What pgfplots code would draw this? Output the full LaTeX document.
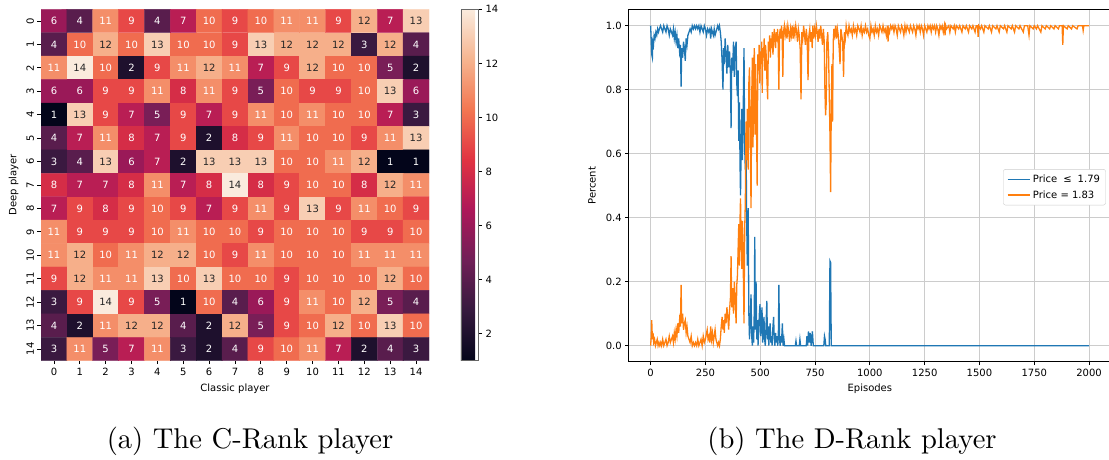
\documentclass[border=0pt]{standalone}
\usepackage{fontspec}
\usepackage{pgfplots}
\usepackage{pgfplotstable}
\pgfplotsset{compat=1.18}
\newfontfamily\dv{DejaVu Sans}
\newcommand{\pf}{\dv\fontsize{10}{12}\selectfont}
\definecolor{tabblue}{HTML}{1F77B4}
\definecolor{taborange}{HTML}{FF7F0E}
\definecolor{darktext}{HTML}{262626}
\pgfplotsset{colormap={rocket}{rgb255(0)=(3,5,26) rgb255(1)=(53,25,62) rgb255(2)=(112,31,87) rgb255(3)=(173,23,89) rgb255(4)=(225,51,66) rgb255(5)=(243,118,81) rgb255(6)=(246,180,143) rgb255(7)=(250,235,221)}}

\pgfplotstableread[row sep=\\]{
x y v\\
0 0 6\\ 1 0 4\\ 2 0 11\\ 3 0 9\\ 4 0 4\\ 5 0 7\\ 6 0 10\\ 7 0 9\\ 8 0 10\\ 9 0 11\\ 10 0 11\\ 11 0 9\\ 12 0 12\\ 13 0 7\\ 14 0 13\\
0 1 4\\ 1 1 10\\ 2 1 12\\ 3 1 10\\ 4 1 13\\ 5 1 10\\ 6 1 10\\ 7 1 9\\ 8 1 13\\ 9 1 12\\ 10 1 12\\ 11 1 12\\ 12 1 3\\ 13 1 12\\ 14 1 4\\
0 2 11\\ 1 2 14\\ 2 2 10\\ 3 2 2\\ 4 2 9\\ 5 2 11\\ 6 2 12\\ 7 2 11\\ 8 2 7\\ 9 2 9\\ 10 2 12\\ 11 2 10\\ 12 2 10\\ 13 2 5\\ 14 2 2\\
0 3 6\\ 1 3 6\\ 2 3 9\\ 3 3 9\\ 4 3 11\\ 5 3 8\\ 6 3 11\\ 7 3 9\\ 8 3 5\\ 9 3 10\\ 10 3 9\\ 11 3 9\\ 12 3 10\\ 13 3 13\\ 14 3 6\\
0 4 1\\ 1 4 13\\ 2 4 9\\ 3 4 7\\ 4 4 5\\ 5 4 9\\ 6 4 7\\ 7 4 9\\ 8 4 11\\ 9 4 10\\ 10 4 11\\ 11 4 10\\ 12 4 10\\ 13 4 7\\ 14 4 3\\
0 5 4\\ 1 5 7\\ 2 5 11\\ 3 5 8\\ 4 5 7\\ 5 5 9\\ 6 5 2\\ 7 5 8\\ 8 5 9\\ 9 5 11\\ 10 5 10\\ 11 5 10\\ 12 5 9\\ 13 5 11\\ 14 5 13\\
0 6 3\\ 1 6 4\\ 2 6 13\\ 3 6 6\\ 4 6 7\\ 5 6 2\\ 6 6 13\\ 7 6 13\\ 8 6 13\\ 9 6 10\\ 10 6 10\\ 11 6 11\\ 12 6 12\\ 13 6 1\\ 14 6 1\\
0 7 8\\ 1 7 7\\ 2 7 7\\ 3 7 8\\ 4 7 11\\ 5 7 7\\ 6 7 8\\ 7 7 14\\ 8 7 8\\ 9 7 9\\ 10 7 10\\ 11 7 10\\ 12 7 8\\ 13 7 12\\ 14 7 11\\
0 8 7\\ 1 8 9\\ 2 8 8\\ 3 8 9\\ 4 8 10\\ 5 8 9\\ 6 8 7\\ 7 8 9\\ 8 8 11\\ 9 8 9\\ 10 8 13\\ 11 8 9\\ 12 8 11\\ 13 8 10\\ 14 8 9\\
0 9 11\\ 1 9 9\\ 2 9 9\\ 3 9 9\\ 4 9 10\\ 5 9 11\\ 6 9 10\\ 7 9 10\\ 8 9 9\\ 9 9 10\\ 10 9 10\\ 11 9 10\\ 12 9 9\\ 13 9 9\\ 14 9 10\\
0 10 11\\ 1 10 12\\ 2 10 10\\ 3 10 11\\ 4 10 12\\ 5 10 12\\ 6 10 10\\ 7 10 9\\ 8 10 11\\ 9 10 10\\ 10 10 10\\ 11 10 10\\ 12 10 11\\ 13 10 11\\ 14 10 11\\
0 11 9\\ 1 11 12\\ 2 11 11\\ 3 11 11\\ 4 11 13\\ 5 11 10\\ 6 11 13\\ 7 11 10\\ 8 11 10\\ 9 11 9\\ 10 11 10\\ 11 11 10\\ 12 11 10\\ 13 11 12\\ 14 11 10\\
0 12 3\\ 1 12 9\\ 2 12 14\\ 3 12 9\\ 4 12 5\\ 5 12 1\\ 6 12 10\\ 7 12 4\\ 8 12 6\\ 9 12 9\\ 10 12 11\\ 11 12 10\\ 12 12 12\\ 13 12 5\\ 14 12 4\\
0 13 4\\ 1 13 2\\ 2 13 11\\ 3 13 12\\ 4 13 12\\ 5 13 4\\ 6 13 2\\ 7 13 12\\ 8 13 5\\ 9 13 9\\ 10 13 10\\ 11 13 12\\ 12 13 10\\ 13 13 13\\ 14 13 10\\
0 14 3\\ 1 14 11\\ 2 14 5\\ 3 14 7\\ 4 14 11\\ 5 14 3\\ 6 14 2\\ 7 14 4\\ 8 14 9\\ 9 14 10\\ 10 14 11\\ 11 14 7\\ 12 14 2\\ 13 14 4\\ 14 14 3\\
}\heat

\begin{document}
\begin{tikzpicture}
\useasboundingbox (0,0) rectangle (1109pt,459pt);
% ---------------- heatmap ----------------
\begin{axis}[
  at={(41pt,98.3pt)}, anchor=south west, scale only axis,
  width=388pt, height=351.4pt,
  xmin=-0.5, xmax=14.5, ymin=-0.5, ymax=14.5,
  axis line style={draw=none},
  xtick={0,...,14}, ytick={0,...,14},
  yticklabels={14,13,12,11,10,9,8,7,6,5,4,3,2,1,0},
  xtick pos=left, ytick pos=left,
  tick align=outside, major tick length=3.5pt,
  tick style={black, line width=0.8pt},
  /pgf/number format/assume math mode=true,
  tick label style={font=\pf},
  yticklabel style={rotate=90, anchor=south},
  xlabel={Classic player}, ylabel={Deep player},
  every axis x label/.style={at={(axis description cs:0.5,0)}, anchor=center, yshift=-28.3pt, font=\pf},
  every axis y label/.style={at={(axis description cs:0,0.5)}, xshift=-27.5pt, anchor=center, rotate=90, font=\pf},
  colormap name=rocket, point meta min=1, point meta max=14,
  colorbar,
  colorbar style={
    at={(parent axis.north east)}, anchor=north west, xshift=23.3pt, width=17.7pt,
    ytick={2,4,...,14}, yticklabel pos=right, ytick pos=right,
    tick align=outside, major tick length=3.5pt, tick style={black, line width=0.8pt},
    axis line style={black!60, line width=0.5pt},
    /pgf/number format/assume math mode=true,
    yticklabel style={font=\pf},
  },
]
\addplot[matrix plot*, mesh/cols=15, point meta=explicit] table[x=x, y expr=14-\thisrow{y}, meta=v]{\heat};
\addplot[draw=none, mark=none, nodes near coords, point meta=explicit,
  every node near coord/.append style={text=white, font=\pf, anchor=center, inner sep=0pt},
  x filter/.expression={\thisrow{v}<11.5 ? x : nan}, unbounded coords=discard]
  table[x=x, y expr=14-\thisrow{y}, meta=v]{\heat};
\addplot[draw=none, mark=none, nodes near coords, point meta=explicit,
  every node near coord/.append style={text=darktext, font=\pf, anchor=center, inner sep=0pt},
  x filter/.expression={\thisrow{v}>11.5 ? x : nan}, unbounded coords=discard]
  table[x=x, y expr=14-\thisrow{y}, meta=v]{\heat};
\end{axis}
% ---------------- line chart ----------------
\begin{axis}[
  at={(628.7pt,97.3pt)}, anchor=south west, scale only axis,
  width=482.3pt, height=352pt,
  xmin=-100, xmax=2100, ymin=-0.05, ymax=1.05,
  xtick={0,250,500,750,1000,1250,1500,1750,2000},
  ytick={0,0.2,0.4,0.6,0.8,1.0},
  grid=major, grid style={black!20, line width=0.8pt},
  axis line style={black, line width=0.8pt},
  xtick pos=left, ytick pos=left,
  tick align=outside, major tick length=3.5pt,
  tick style={black, line width=0.8pt},
  /pgf/number format/assume math mode=true,
  tick label style={font=\pf},
  xticklabel style={/pgf/number format/1000 sep={}},
  yticklabel style={/pgf/number format/.cd, fixed, fixed zerofill, precision=1},
  xlabel={Episodes}, ylabel={Percent},
  every axis x label/.style={at={(axis description cs:0.5,0)}, anchor=center, yshift=-27.3pt, font=\pf},
  every axis y label/.style={at={(axis description cs:0,0.5)}, xshift=-36.7pt, anchor=center, rotate=90, font=\pf},
  legend style={at={(0.989,0.547)}, anchor=north east, draw=black!20, rounded corners=2pt,
    fill=white, font=\pf, row sep=2.5pt, inner sep=3.5pt},
  legend cell align=left,
  legend image code/.code={\draw[#1, line width=1.3pt] (0pt,0pt) -- (22.7pt,0pt);},
]
\addplot[tabblue, line width=1.3pt] coordinates {
(0,1.00) (3,0.95) (5,0.91) (8,0.90) (10,0.95) (13,0.94) (16,0.97) (20,0.96) (24,0.98) (28,0.97)
(32,0.99) (36,0.98) (40,0.99) (45,1.00) (50,0.99) (55,0.98) (60,1.00) (65,0.99) (70,0.98) (75,1.00)
(80,0.99) (85,0.97) (90,0.99) (95,0.98) (100,0.97) (104,0.99) (108,0.96) (112,0.98) (116,0.95) (120,0.97)
(124,0.93) (128,0.96) (132,0.92) (136,0.94) (139,0.81) (142,0.93) (146,0.90) (150,0.95) (154,0.93) (158,0.89)
(162,0.96) (166,0.94) (170,0.97) (175,0.98) (180,0.99) (185,0.98) (190,1.00) (195,0.99) (200,1.00) (205,0.99)
(210,1.00) (215,0.99) (220,1.00) (225,0.98) (230,1.00) (235,0.99) (240,0.98) (245,1.00) (250,0.99) (255,0.97)
(260,0.99) (265,0.98) (270,0.99) (274,0.96) (278,0.99) (282,0.98) (286,0.97) (290,0.99) (294,0.97) (298,0.98)
(302,0.99) (306,1.00) (310,0.99) (314,1.00) (318,0.98) (322,0.95) (326,0.89) (330,0.80) (333,0.93) (336,0.88)
(340,0.96) (344,0.91) (348,0.85) (352,0.94) (356,0.87) (360,0.92) (364,0.85) (367,0.68) (370,0.90) (374,0.86)
(378,0.95) (382,0.84) (386,0.93) (390,0.95) (393,0.82) (396,0.78) (399,0.86) (402,0.64) (405,0.76) (408,0.56)
(410,0.47) (413,0.62) (416,0.74) (419,0.58) (422,0.72) (426,0.93) (429,0.62) (432,0.55) (435,0.66) (438,0.40)
(441,0.25) (445,0.43) (448,0.10) (451,0.02) (454,0.08) (458,0.16) (461,0.03) (464,0.00) (467,0.06) (470,0.01)
(473,0.12) (475,0.34) (478,0.05) (481,0.20) (484,0.02) (487,0.08) (490,0.00) (493,0.05) (496,0.10) (499,0.13)
(502,0.03) (505,0.06) (508,0.12) (511,0.01) (514,0.04) (517,0.09) (520,0.02) (523,0.00) (526,0.05) (530,0.14)
(533,0.02) (536,0.06) (539,0.00) (542,0.04) (545,0.07) (548,0.01) (551,0.03) (554,0.00) (557,0.05) (561,0.09)
(564,0.02) (567,0.00) (570,0.04) (573,0.01) (576,0.03) (580,0.00) (583,0.05) (585,0.19) (588,0.02) (591,0.00)
(594,0.03) (597,0.01) (601,0.07) (604,0.00) (608,0.02) (611,0.00) (660,0.00) (663,0.015) (666,0.00) (678,0.00)
(681,0.02) (684,0.00) (710,0.00) (713,0.03) (716,0.00) (720,0.045) (724,0.01) (728,0.04) (732,0.00) (738,0.045)
(742,0.00) (790,0.00) (793,0.03) (796,0.02) (799,0.00) (815,0.00) (818,0.265) (821,0.26) (824,0.00) (2000,0.00)
};
\addlegendentry{Price\hspace{6pt}≤\hspace{6pt}1.79}
\addplot[taborange, line width=1.3pt] coordinates {
(0,0.00) (3,0.03) (5,0.08) (8,0.02) (11,0.04) (14,0.01) (18,0.02) (22,0.00) (26,0.01) (30,0.02)
(34,0.00) (38,0.01) (42,0.00) (46,0.01) (50,0.00) (55,0.02) (60,0.00) (65,0.01) (70,0.02) (75,0.00)
(80,0.01) (85,0.03) (90,0.01) (95,0.02) (100,0.03) (104,0.01) (108,0.04) (112,0.02) (116,0.05) (120,0.03)
(124,0.07) (128,0.04) (132,0.08) (136,0.06) (139,0.19) (142,0.07) (146,0.10) (150,0.05) (154,0.07) (158,0.08)
(162,0.04) (166,0.06) (170,0.03) (175,0.02) (180,0.01) (185,0.03) (190,0.00) (195,0.01) (200,0.00) (205,0.01)
(210,0.00) (215,0.02) (220,0.00) (225,0.01) (230,0.02) (235,0.00) (240,0.03) (245,0.01) (250,0.02) (255,0.04)
(258,0.05) (262,0.02) (266,0.03) (270,0.01) (274,0.06) (278,0.02) (282,0.04) (286,0.01) (290,0.03) (294,0.05)
(298,0.02) (302,0.01) (306,0.00) (310,0.01) (314,0.00) (318,0.02) (322,0.06) (326,0.09) (330,0.05) (333,0.08)
(336,0.04) (340,0.10) (344,0.07) (348,0.12) (352,0.09) (356,0.05) (360,0.11) (364,0.15) (367,0.28) (370,0.12)
(374,0.18) (378,0.10) (382,0.20) (386,0.14) (390,0.07) (393,0.19) (396,0.22) (399,0.30) (402,0.38) (405,0.25)
(408,0.40) (410,0.46) (413,0.33) (416,0.24) (419,0.39) (422,0.27) (426,0.07) (429,0.36) (432,0.45) (435,0.70)
(438,0.58) (441,0.74) (445,0.55) (448,0.82) (451,0.87) (454,0.68) (458,0.43) (461,0.77) (464,0.90) (467,0.62)
(470,0.85) (473,0.93) (476,0.66) (479,0.88) (482,0.74) (486,0.50) (489,0.91) (492,0.86) (495,0.94) (498,0.82)
(501,0.92) (504,0.88) (507,0.95) (509,0.79) (512,0.93) (515,0.90) (518,0.96) (521,0.86) (524,0.94) (527,0.91)
(530,0.84) (534,0.77) (537,0.95) (540,0.92) (543,0.97) (546,0.90) (549,0.96) (552,0.93) (555,0.98) (558,0.91)
(561,0.95) (564,0.99) (567,0.96) (570,0.93) (573,0.98) (576,0.95) (579,0.99) (582,0.94) (585,0.80) (588,0.97)
(591,0.99) (594,0.96) (597,1.00) (600,0.97) (603,0.84) (606,0.98) (610,1.00) (614,0.97) (618,0.99) (622,0.96)
(626,1.00) (630,0.98) (634,0.95) (638,0.99) (642,0.97) (646,1.00) (650,0.96) (654,0.99) (658,0.97) (662,1.00)
(666,0.98) (670,0.95) (674,0.99) (678,0.97) (682,0.93) (686,0.77) (690,0.98) (694,0.96) (698,1.00) (702,0.97)
(706,0.94) (710,0.99) (714,0.96) (718,0.83) (722,0.97) (726,0.99) (730,0.95) (734,0.98) (737,0.93) (740,1.00)
(744,0.96) (748,0.99) (752,0.97) (756,1.00) (760,0.98) (764,0.95) (768,0.99) (772,0.96) (776,1.00) (780,0.97)
(784,0.94) (788,0.99) (792,0.95) (795,0.80) (798,0.72) (801,0.76) (804,0.95) (808,0.98) (812,0.90) (815,0.78)
(818,0.66) (821,0.48) (824,0.74) (827,0.88) (830,0.70) (833,0.95) (836,0.99) (840,0.97) (844,1.00) (848,0.96)
(852,0.99) (856,0.97) (860,0.93) (864,0.88) (868,0.99) (872,0.97) (876,0.95) (880,0.84) (884,0.98) (888,0.96)
(892,1.00) (896,0.98) (900,0.97) (905,1.00) (910,0.98) (915,0.99) (920,0.97) (925,1.00) (930,0.98) (935,0.99)
(940,0.97) (945,1.00) (950,0.99) (955,0.98) (960,1.00) (965,0.97) (970,0.99) (975,0.98) (980,1.00) (985,0.98)
(990,0.99) (995,0.97) (1000,0.96) (1005,1.00) (1010,0.98) (1015,0.99) (1020,0.97) (1025,1.00) (1030,0.98) (1035,0.99)
(1040,0.97) (1045,1.00) (1050,0.99) (1055,0.98) (1060,1.00) (1065,0.98) (1070,0.99) (1075,0.97) (1080,1.00) (1083,0.95)
(1086,0.99) (1090,0.98) (1095,1.00) (1100,0.99) (1105,1.00) (1110,0.98) (1115,1.00) (1120,0.99) (1125,0.97) (1130,1.00)
(1135,0.99) (1140,0.98) (1145,1.00) (1150,0.99) (1155,0.97) (1160,1.00) (1165,0.98) (1170,1.00) (1175,0.99) (1180,0.98)
(1185,1.00) (1190,0.99) (1195,0.98) (1200,1.00) (1205,0.99) (1210,0.97) (1215,1.00) (1220,0.99) (1225,1.00) (1230,0.98)
(1235,1.00) (1240,0.99) (1245,0.97) (1250,1.00) (1255,0.99) (1260,0.98) (1265,1.00) (1270,0.99) (1275,1.00) (1280,0.98)
(1285,1.00) (1290,0.99) (1295,1.00) (1300,0.98) (1305,1.00) (1310,0.99) (1315,0.97) (1320,1.00) (1325,0.99) (1330,1.00)
(1335,0.98) (1340,1.00) (1343,0.97) (1346,1.00) (1350,0.99) (1360,1.00) (1365,0.98) (1370,1.00) (1380,0.99) (1385,1.00)
(1390,0.98) (1395,1.00) (1405,0.99) (1410,1.00) (1420,0.98) (1425,1.00) (1435,0.99) (1440,1.00) (1450,0.98) (1455,1.00)
(1465,0.99) (1470,1.00) (1480,0.98) (1485,1.00) (1491,1.00) (1494,0.965) (1497,1.00) (1505,0.99) (1510,1.00) (1520,0.98)
(1525,1.00) (1540,0.99) (1545,1.00) (1555,0.98) (1560,1.00) (1575,0.99) (1580,1.00) (1590,0.98) (1595,1.00) (1610,0.99)
(1615,1.00) (1625,0.98) (1630,1.00) (1645,0.99) (1650,1.00) (1660,0.98) (1665,1.00) (1680,0.99) (1685,1.00) (1700,0.98)
(1705,1.00) (1720,1.00) (1726,0.97) (1730,1.00) (1745,0.99) (1750,1.00) (1760,0.99) (1765,1.00) (1780,0.98) (1785,1.00)
(1800,0.99) (1805,1.00) (1820,0.99) (1825,1.00) (1840,0.99) (1845,1.00) (1860,0.99) (1865,1.00) (1877,1.00) (1880,0.94)
(1883,1.00) (1900,0.99) (1905,1.00) (1920,0.99) (1925,1.00) (1945,0.99) (1950,1.00) (1970,1.00) (1973,0.985) (1976,1.00)
(2000,1.00)
};
\addlegendentry{Price = 1.83}
\end{axis}
% ---------------- captions ----------------
\node[anchor=base, font=\fontsize{10}{12}\selectfont, scale=2.86, transform shape] at (250pt,11pt) {(a) The C-Rank player};
\node[anchor=base, font=\fontsize{10}{12}\selectfont, scale=2.86, transform shape] at (852pt,11pt) {(b) The D-Rank player};
\end{tikzpicture}
\end{document}
